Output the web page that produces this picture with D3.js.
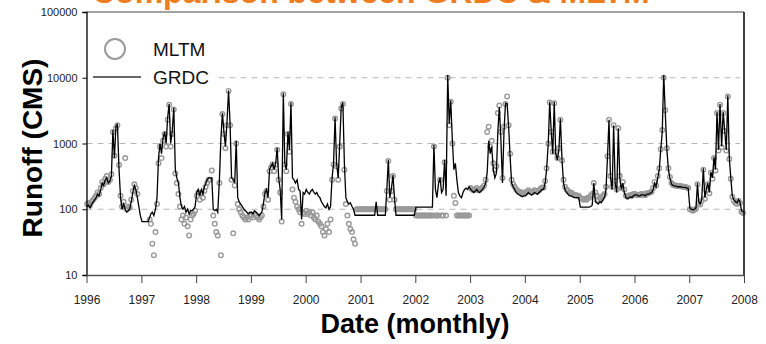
<!DOCTYPE html>
<html><head><meta charset="utf-8">
<script src="https://cdn.jsdelivr.net/npm/d3@7"></script>
<style>
html,body{margin:0;padding:0;background:#fff;}
svg{display:block;}
</style></head>
<body><svg id="c" width="766" height="344"></svg>
<script>
// ---- data: 10-day samples (3 per month), Jan 1996 .. Dec 2007 ----
const startYear = 1996, endYear = 2008;
const yTicks = [10, 100, 1000, 10000, 100000];
const gridValues = [100, 1000, 10000];
const xTickYears = [1996,1997,1998,1999,2000,2001,2002,2003,2004,2005,2006,2007,2008];
const seriesNames = ["MLTM", "GRDC"];

const grdc = [
 // 1996
 110,115,105, 120,130,140, 150,170,160, 200,250,230, 280,300,250, 270,320,1600, 600,1800,2000, 400,150,100, 120,100,90, 95,100,130, 180,230,200, 150,110,80,
 // 1997
 65,65,65, 65,65,75, 85,90,80, 100,150,600, 1000,700,1200, 1500,1000,2500, 4000,1000,1500, 3500,400,300, 250,150,110, 100,110,90, 100,85,95, 95,100,110,
 // 1998
 180,200,160, 200,170,220, 240,280,300, 300,300,100, 95,100,90, 280,1200,2900, 1500,900,2000, 6400,2000,300, 280,250,1100, 150,130,120, 110,100,95, 90,85,90,
 // 1999
 90,85,95, 90,85,80, 85,90,120, 180,200,150, 400,450,500, 400,500,850, 300,200,70, 5800,500,400, 1500,800,4200, 300,280,250, 280,200,190, 70,180,170,
 // 2000
 200,180,170, 190,200,180, 170,180,160, 150,130,120, 110,105,120, 100,110,300, 500,2500,500, 300,1000,3600, 4200,500,150, 130,120,125, 110,100,81, 81,81,81,
 // 2001
 81,81,81, 81,81,81, 81,81,81, 81,130,81, 81,81,81, 81,81,200, 560,150,200, 330,150,81, 81,81,81, 81,81,81, 81,81,81, 81,81,81,
 // 2002
 108,108,108, 108,108,108, 108,108,108, 108,108,108, 950,200,150, 250,300,180, 200,560,160, 11000,2000,4500, 1100,400,500, 280,180,160, 150,180,200, 210,200,220,
 // 2003
 200,190,180, 190,200,185, 180,190,200, 220,250,360, 1100,700,900, 400,300,350, 1500,3600,1200, 250,1500,4100, 4000,1800,620, 250,220,200, 180,170,165, 160,155,160,
 // 2004
 160,170,180, 170,165,170, 180,175,170, 180,190,200, 200,250,400, 1000,4300,1500, 700,4300,700, 560,800,2400, 550,250,200, 180,170,160, 160,155,150, 150,150,150,
 // 2005
 108,108,108, 108,108,108, 108,110,115, 250,130,125, 120,130,125, 140,150,200, 620,2300,300, 200,1900,250, 180,1700,300, 200,250,180, 150,145,150, 155,150,160,
 // 2006
 165,165,160, 160,165,165, 165,160,170, 170,175,180, 200,250,220, 300,400,800, 1500,11000,3000, 800,400,300, 240,230,225, 225,220,220, 220,215,215, 215,210,210,
 // 2007
 105,100,98, 100,105,250, 130,120,140, 420,150,200, 250,180,370, 300,620,400, 3000,800,4000, 900,3000,1600, 800,5400,600, 300,160,140, 130,125,140, 130,95,90
];

const mltm = [
 // 1996
 120,125,115, 130,140,150, 160,180,170, 210,260,240, 290,320,260, 280,340,1500, 650,1700,1900, 470,160,110, 130,600,100, 110,105,140, 190,240,210, 170,null,null,
 // 1997
 null,null,null, null,null,70, 60,30,20, 45,120,500, 900,600,1100, 1400,900,2300, 3900,900,1400, 3300,350,250, 170,110,70, 80,60,75, 55,40,70, 80,85,95,
 // 1998
 160,180,140, 180,150,190, 220,250,280, 280,390,80, 60,45,40, 250,20,2800, 1400,850,1900, 6300,1900,280, 43,230,1000, 120,100,90, 80,75,70, 75,70,80,
 // 1999
 80,75,85, 80,75,70, 75,80,110, 170,190,140, 380,430,480, 380,480,800, 280,180,65, 5600,480,380, 1400,750,4000, 200,150,130, 110,100,90, 60,90,85,
 // 2000
 95,85,90, 80,90,75, 70,80,65, 60,55,45, 40,50,60, 45,70,280, 480,2400,450, 280,900,3400, 4000,400,120, 80,60,50, 45,35,30, 100,100,100,
 // 2001
 100,100,100, 100,100,100, 100,100,100, 100,100,100, 100,100,100, 100,100,190, 540,140,190, 320,140,100, 100,100,100, 100,100,100, 100,100,100, 100,100,100,
 // 2002
 80,80,80, 80,80,80, 80,80,80, 80,80,80, 900,80,80, 80,280,80, 80,520,80, 10000,1900,4300, 1000,160,125, 80,80,80, 80,80,80, 80,80,80,
 // 2003
 210,200,195, 200,210,195, 195,205,215, 230,280,1500, 1800,900,1100, 500,400,450, 2900,3800,1500, 300,1800,4000, 5200,1900,700, 280,240,220, 200,190,185, 180,175,180,
 // 2004
 175,185,195, 185,180,185, 195,190,185, 195,205,215, 215,270,420, 1000,4200,1500, 750,4100,750, 600,850,2300, 550,280,220, 200,190,180, 180,170,165, 165,160,160,
 // 2005
 150,145,140, 145,140,150, 150,160,170, 250,180,160, 140,150,145, 160,170,220, 640,2300,320, 220,1900,270, 200,1700,320, 210,260,200, 160,155,160, 165,160,170,
 // 2006
 170,165,165, 165,170,165, 170,165,175, 175,180,185, 210,260,230, 320,420,820, 1600,10000,3200, 850,420,310, 250,235,230, 230,225,225, 225,220,220, 220,215,210,
 // 2007
 100,98,95, 98,102,240, 125,118,135, 400,145,195, 240,175,360, 290,600,390, 2900,780,3900, 880,2900,1550, 780,5200,580, 290,155,135, 125,120,135, 125,92,88
];

// ---- layout ----
const L = 86.5, R = 744, T = 12, B = 275;
const svg = d3.select("#c");

function dateAt(i) {
  const y = startYear + Math.floor(i / 36);
  const m = Math.floor((i % 36) / 3);
  const d = 5 + (i % 3) * 10;
  return new Date(y, m, d);
}

const x = d3.scaleTime().domain([new Date(startYear,0,1), new Date(endYear,0,1)]).range([L, R]);
const y = d3.scaleLog().domain([10, 100000]).range([B, T]);

const gData = grdc.map((v,i)=>({t:dateAt(i), v}));
const mData = mltm.map((v,i)=>({t:dateAt(i), v})).filter(d=>d.v!=null);

// title (cut off at top, as in the reference)
svg.append("text").attr("x", 92).attr("y", 3)
  .attr("font-family","Liberation Sans, Arial, sans-serif").attr("font-weight","bold")
  .attr("font-size", 32).attr("fill","#EE7D22")
  .text("Comparison between GRDC & MLTM");

// grid
svg.append("g").selectAll("line").data(gridValues).join("line")
  .attr("x1", L).attr("x2", R-4).attr("y1", d=>y(d)).attr("y2", d=>y(d))
  .attr("stroke","#b8b8b8").attr("stroke-width",1).attr("stroke-dasharray","6,5");

// MLTM circles
svg.append("g").selectAll("circle").data(mData).join("circle")
  .attr("cx", d=>x(d.t)).attr("cy", d=>y(d.v)).attr("r", 2.3)
  .attr("fill","none").attr("stroke","#999").attr("stroke-width",1.4);

// GRDC line
svg.append("path").datum(gData)
  .attr("d", d3.line().x(d=>x(d.t)).y(d=>y(d.v)))
  .attr("fill","none").attr("stroke","#000").attr("stroke-width",1.3);

// frame
svg.append("line").attr("x1",L).attr("x2",R).attr("y1",T).attr("y2",T).attr("stroke","#444").attr("stroke-width",1);
svg.append("line").attr("x1",R).attr("x2",R).attr("y1",T).attr("y2",B).attr("stroke","#000").attr("stroke-width",1.5);

// y axis
const yAxis = d3.axisLeft(y).tickValues(yTicks).tickFormat(d3.format("d")).tickSize(4).tickPadding(5);
const gy = svg.append("g").attr("transform",`translate(${L},0)`).call(yAxis);
gy.select(".domain").attr("stroke","#000").attr("stroke-width",1.3);
gy.selectAll(".tick line").attr("stroke","#000");
gy.selectAll("text").attr("font-family","Liberation Sans Narrow, Arial Narrow, sans-serif")
  .attr("font-size",11).attr("fill","#222");

// x axis
const xAxis = d3.axisBottom(x).tickValues(xTickYears.map(yr=>new Date(yr,0,1)))
  .tickFormat(d3.timeFormat("%Y")).tickSize(8).tickPadding(12).tickSizeOuter(0);
const gx = svg.append("g").attr("transform",`translate(0,${B})`).call(xAxis);
gx.select(".domain").attr("stroke","#555").attr("stroke-width",1.3);
gx.selectAll(".tick line").attr("stroke","#444");
gx.selectAll("text").attr("font-family","Liberation Sans Narrow, Arial Narrow, sans-serif")
  .attr("font-size",12).attr("fill","#222");

// axis titles
svg.append("text").attr("transform","translate(42,148) rotate(-90)").attr("text-anchor","middle")
  .attr("font-family","Liberation Sans, Arial, sans-serif").attr("font-weight","bold").attr("font-size",28)
  .attr("fill","#000").text("Runoff (CMS)");
svg.append("text").attr("x",415).attr("y",333).attr("text-anchor","middle")
  .attr("font-family","Liberation Sans, Arial, sans-serif").attr("font-weight","bold").attr("font-size",27)
  .attr("fill","#000").text("Date (monthly)");

// legend
const lg = svg.append("g");
lg.append("rect").attr("x",L+1.5).attr("y",28).attr("width",128).attr("height",64).attr("fill","#fff");
lg.append("circle").attr("cx",115).attr("cy",49).attr("r",10).attr("fill","none").attr("stroke","#9a9a9a").attr("stroke-width",2);
lg.append("line").attr("x1",93).attr("x2",141).attr("y1",77).attr("y2",77).attr("stroke","#666").attr("stroke-width",2);
lg.selectAll("text").data(seriesNames).join("text")
  .attr("x",153).attr("y",(d,i)=>56+i*28)
  .attr("font-family","Liberation Sans, Arial, sans-serif").attr("font-size",19).attr("fill","#111")
  .text(d=>d);
</script></body></html>
